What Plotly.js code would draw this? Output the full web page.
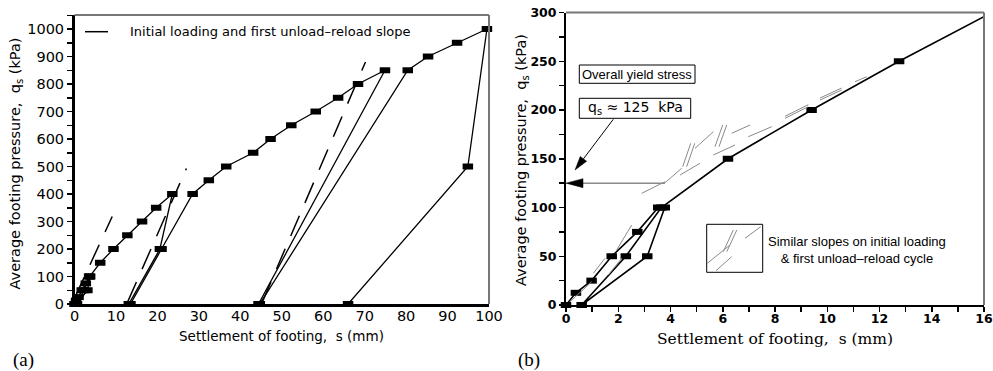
<!DOCTYPE html>
<html><head><meta charset="utf-8">
<script src="https://cdn.plot.ly/plotly-3.0.1.min.js"></script>
<style>body{margin:0;background:#fff}</style>
</head><body><div id="chart" style="width:993px;height:371px"></div>
<script>
// ---- data ----
const settlement_mm = [0,0.38,0.98,1.75,2.73,3.53,3.78,3.11,0.6,2.29,3.65,6.2,9.4,12.75,16.3,19.7,23.6,20.6,13.1,13.5,21.0,28.5,32.4,36.6,43.1,47.3,52.3,58.2,63.6,68.4,74.9,44.4,44.7,80.4,85.3,92.3,99.5,94.9,66.0];
const pressure_kPa  = [0,12.5,25,50,75,100,100,50,0,50,100,150,200,250,300,350,400,200,0,0,200,400,450,500,550,600,650,700,750,800,850,0,0,850,900,950,1000,500,0];
// initial loading / first unload-reload slope lines (panel a)
const slopeLine_s = [0.1,9.1,null,12.8,27.0,null,45.3,70.2];
const slopeLine_q = [24,318,null,7,493,null,7,880];
const xTicksA = [0,10,20,30,40,50,60,70,80,90,100];
const yieldStress_kPa = 125;
const zoomLimit_mm = 16;

const W = 993, H = 371;
const X = v => v / W, Y = v => (H - v) / H;

// panel b: the early part of the test (up to the first reading beyond the zoom limit)
let cut = settlement_mm.findIndex(s => s > zoomLimit_mm);
const bLineS = settlement_mm.slice(0, cut + 1), bLineQ = pressure_kPa.slice(0, cut + 1);
const bMkS = settlement_mm.slice(0, cut), bMkQ = pressure_kPa.slice(0, cut);

const mk = {symbol: 'line-ew', size: 7.5, color: '#000', line: {color: '#000', width: 6}};

const traces = [
  {x: settlement_mm, y: pressure_kPa, xaxis: 'x', yaxis: 'y', mode: 'lines', line: {color: '#000', width: 1.3}, cliponaxis: false, hoverinfo: 'none'},
  {x: settlement_mm, y: pressure_kPa, xaxis: 'x', yaxis: 'y', mode: 'markers', marker: mk, cliponaxis: false, hoverinfo: 'none'},
  {x: slopeLine_s, y: slopeLine_q, xaxis: 'x', yaxis: 'y', mode: 'lines', line: {color: '#000', width: 1.5, dash: '22px,14px'}, hoverinfo: 'none'},
  {x: bLineS, y: bLineQ, xaxis: 'x2', yaxis: 'y2', mode: 'lines', line: {color: '#000', width: 1.6}, hoverinfo: 'none'},
  {x: bMkS, y: bMkQ, xaxis: 'x2', yaxis: 'y2', mode: 'markers', marker: mk, cliponaxis: false, hoverinfo: 'none'}
];

function seg(x0, y0, x1, y1, color, width) {
  return {type: 'line', xref: 'paper', yref: 'paper', x0: X(x0), y0: Y(y0), x1: X(x1), y1: Y(y1), line: {color: color, width: width}};
}
function rect(x0, y0, x1, y1) {
  return {type: 'rect', xref: 'paper', yref: 'paper', x0: X(x0), y0: Y(y0), x1: X(x1), y1: Y(y1), line: {color: '#000', width: 1}, fillcolor: 'rgba(0,0,0,0)'};
}
function tri(pts) {
  const d = 'M' + pts.map(p => X(p[0]) + ',' + Y(p[1])).join(' L') + ' Z';
  return {type: 'path', xref: 'paper', yref: 'paper', path: d, fillcolor: '#000', line: {color: '#000', width: 0.5}};
}
function arrow(tx, ty, hx, hy, len, hw, color, width) {
  const dx = hx - tx, dy = hy - ty, L = Math.hypot(dx, dy);
  const ux = dx / L, uy = dy / L, bx = hx - ux * len, by = hy - uy * len;
  return [seg(tx, ty, bx, by, color, width),
          tri([[hx, hy], [bx - uy * hw, by + ux * hw], [bx + uy * hw, by - ux * hw]])];
}

const gray = '#8a8a8a';
const shapes = [
  // frames (top/right thin gray)
  {type: 'line', xref: 'x domain', yref: 'y domain', x0: 0, x1: 1, y0: 1, y1: 1, line: {color: '#777', width: 2}},
  {type: 'line', xref: 'x domain', yref: 'y domain', x0: 1, x1: 1, y0: 0, y1: 1, line: {color: '#777', width: 2}},
  {type: 'line', xref: 'x2 domain', yref: 'y2 domain', x0: 0, x1: 1, y0: 1, y1: 1, line: {color: '#777', width: 2}},
  {type: 'line', xref: 'x2 domain', yref: 'y2 domain', x0: 1, x1: 1, y0: 0, y1: 1, line: {color: '#777', width: 2}},
  // legend sample panel a
  seg(85, 31.7, 108, 31.7, '#000', 1.5),
  // panel b boxes
  rect(579.3, 65, 695, 83.3),
  rect(579.3, 98.3, 690.7, 118.3),
  rect(706.7, 224.3, 762.7, 272.3),
  // symbols inside legend box
  seg(707.3, 263.3, 730, 245, gray, 1), seg(716, 270.7, 731.7, 256.7, gray, 1),
  seg(723.3, 251.7, 733.3, 230, gray, 1), seg(726.8, 251.7, 736.8, 230, gray, 1),
  seg(745, 238.3, 760.7, 226.7, gray, 1),
  // similar-slope marks
  seg(570, 301.7, 591.7, 281.7, gray, 1),
  seg(593.3, 273.3, 605, 258.3, gray, 1),
  seg(608.3, 275, 621.7, 258.3, gray, 1),
  seg(616.7, 250, 631.7, 225, gray, 1),
  seg(641.7, 193.3, 665, 181.7, gray, 1),
  seg(665, 182.7, 681.7, 168.3, gray, 1),
  seg(682.7, 166.7, 690.7, 143.3, gray, 1), seg(686.7, 166.7, 694.7, 143.3, gray, 1),
  seg(680, 175, 700, 163.3, gray, 1),
  seg(695, 148.3, 713.3, 131.7, gray, 1),
  seg(715, 146.7, 722.7, 125, gray, 1), seg(719, 146.7, 726.7, 125, gray, 1),
  seg(713.3, 155, 735, 145, gray, 1),
  seg(731.7, 133.3, 750, 125, gray, 1),
  seg(748.3, 136.7, 771.7, 126.7, gray, 1),
  seg(785, 118.3, 808.3, 106.7, gray, 1), seg(785, 116.3, 808.3, 104.7, gray, 1),
  seg(820, 100, 841.7, 90, gray, 1), seg(820, 98, 841.7, 88, gray, 1),
  seg(855, 81.7, 866.7, 76.7, gray, 1)
];
// yield stress arrows
const qy = 305 - yieldStress_kPa * 0.975;
shapes.push(...arrow(665, qy, 566, qy, 17, 4.5, gray, 1.5));
shapes.push(...arrow(613.3, 119.3, 575, 170, 14, 4, '#000', 1));

const ann = (x, y, text, o) => Object.assign({xref: 'paper', yref: 'paper', x: X(x), y: Y(y), text: text, showarrow: false,
  font: {family: 'DejaVu Sans', size: 13, color: '#000'}}, o || {});

const annotations = [
  ann(128, 31.7, 'Initial loading and first unload\u2013reload slope', {xanchor: 'left', yanchor: 'middle'}),
  ann(281.5, 335.5, 'Settlement of footing,  s (mm)', {xanchor: 'center', yanchor: 'middle', font: {family: 'DejaVu Sans', size: 13.5, color: '#000'}}),
  ann(15, 163.5, 'Average footing pressure,  q<sub>s</sub> (kPa)', {textangle: -90, xanchor: 'center', yanchor: 'middle', font: {family: 'DejaVu Sans', size: 14.5, color: '#000'}}),
  ann(11, 360, '(a)', {xanchor: 'left', yanchor: 'middle', font: {family: 'Liberation Serif', size: 19, color: '#000'}}),
  ann(516, 360, '(b)', {xanchor: 'left', yanchor: 'middle', font: {family: 'Liberation Serif', size: 19, color: '#000'}}),
  ann(775, 339, 'Settlement of footing,  s (mm)', {xanchor: 'center', yanchor: 'middle', font: {family: 'DejaVu Serif', size: 15.5, color: '#000'}}),
  ann(522, 160, 'Average footing pressure,  q<sub>s</sub> (kPa)', {textangle: -90, xanchor: 'center', yanchor: 'middle', font: {family: 'DejaVu Sans', size: 14.5, color: '#000'}}),
  ann(637, 74, 'Overall yield stress', {xanchor: 'center', yanchor: 'middle', font: {family: 'Liberation Sans', size: 13, color: '#000'}}),
  ann(635, 108, 'q<sub>s</sub> \u2248 ' + yieldStress_kPa + '  kPa', {xanchor: 'center', yanchor: 'middle', font: {family: 'DejaVu Sans', size: 14, color: '#000'}}),
  ann(857, 250.3, 'Similar slopes on initial loading<br>&amp; first unload\u2013reload cycle', {xanchor: 'center', yanchor: 'middle', align: 'center', font: {family: 'Liberation Sans', size: 13, color: '#000'}})
];

const tfA = {family: 'DejaVu Sans', size: 14.5, color: '#000'};
const tfB = {family: 'DejaVu Sans', size: 12.5, color: '#000', weight: 'bold'};

const layout = {
  width: W, height: H, margin: {l: 0, r: 0, t: 0, b: 0},
  paper_bgcolor: '#fff', plot_bgcolor: '#fff', showlegend: false,
  xaxis: {domain: [X(74.5), X(489)], range: [0, 100], anchor: 'y', showline: true, linecolor: '#000', linewidth: 2.5,
    ticks: '', tickvals: xTicksA, tickfont: tfA, ticklabeloverflow: 'allow', ticklabelstandoff: -3,
    showgrid: false, zeroline: false, fixedrange: true},
  yaxis: {domain: [Y(304), Y(15)], range: [0, 1051], anchor: 'x', showline: true, linecolor: '#000', linewidth: 2.5,
    ticks: 'outside', ticklen: 5, tickwidth: 1.5, tickcolor: '#000', tick0: 0, dtick: 100, tickfont: tfA,
    ticklabeloverflow: 'allow',
    minor: {dtick: 50, ticks: 'outside', ticklen: 5, tickwidth: 1.5, tickcolor: '#000', showgrid: false},
    showgrid: false, zeroline: false, fixedrange: true},
  xaxis2: {domain: [X(566), X(984)], range: [0, 16], anchor: 'y2', showline: true, linecolor: '#000', linewidth: 2,
    ticks: 'outside', ticklen: 5, tickwidth: 1.5, tickcolor: '#000', tick0: 0, dtick: 2, tickfont: tfB,
    ticklabeloverflow: 'allow', ticklabelstandoff: -4,
    minor: {dtick: 1, ticks: 'outside', ticklen: 5, tickwidth: 1.5, tickcolor: '#000', showgrid: false},
    showgrid: false, zeroline: false, fixedrange: true},
  yaxis2: {domain: [Y(305), Y(12.5)], range: [0, 300], anchor: 'x2', showline: true, linecolor: '#000', linewidth: 2,
    ticks: 'outside', ticklen: 5, tickwidth: 1.5, tickcolor: '#000', tick0: 0, dtick: 50, tickfont: tfB,
    ticklabeloverflow: 'allow',
    minor: {dtick: 25, ticks: 'outside', ticklen: 5, tickwidth: 1.5, tickcolor: '#000', showgrid: false},
    showgrid: false, zeroline: false, fixedrange: true},
  shapes: shapes,
  annotations: annotations
};

Plotly.newPlot('chart', traces, layout, {staticPlot: true, displayModeBar: false});
</script>
</body></html>
